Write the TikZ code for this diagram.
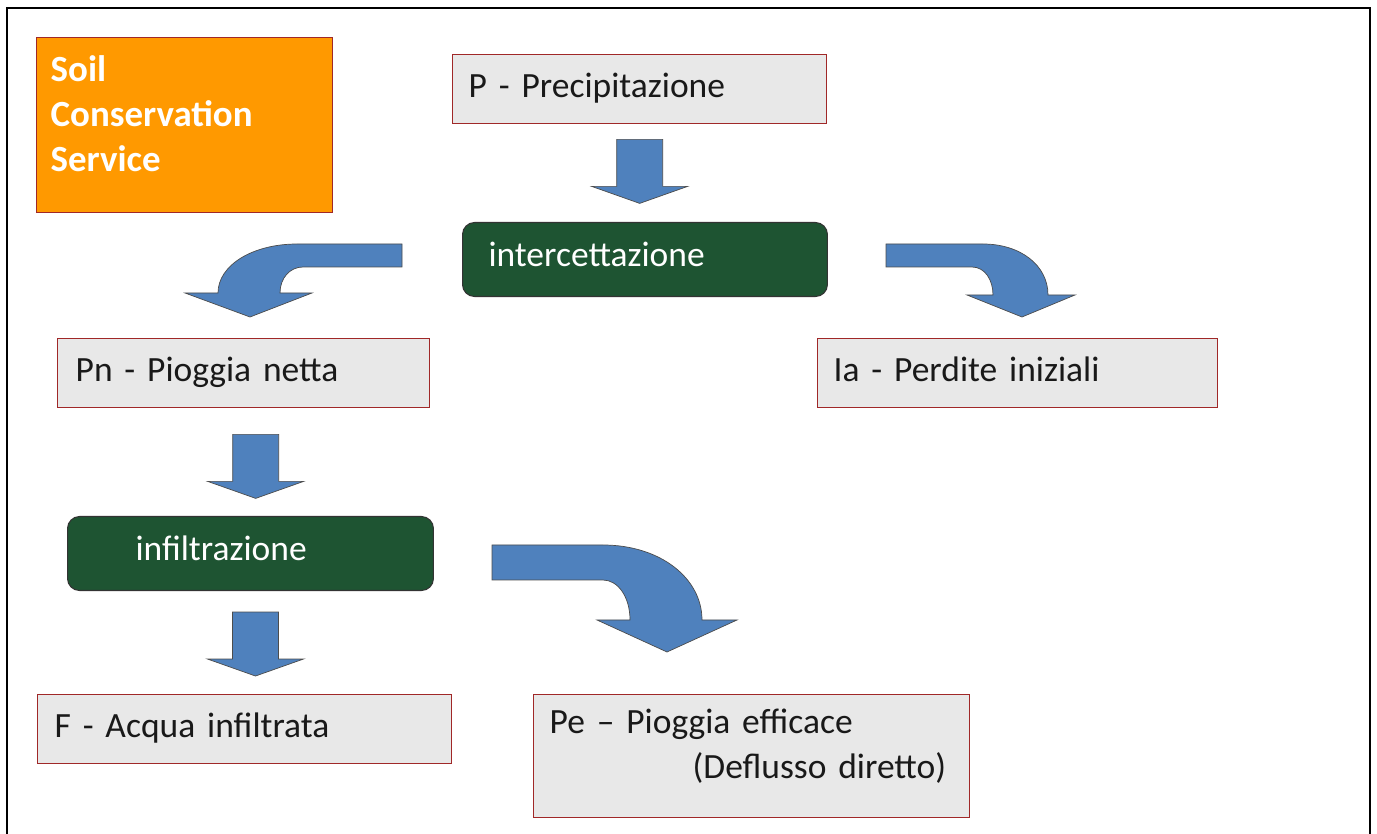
\documentclass[tikz,border=0pt]{standalone}
\usepackage{fontspec}
\setmainfont{Carlito}
\usetikzlibrary{positioning}

\definecolor{boxred}{RGB}{160,40,40}
\definecolor{flowblue}{RGB}{79,129,189}
\definecolor{marble}{RGB}{30,84,50}
\definecolor{scsorange}{RGB}{255,153,0}

\begin{document}
\begin{tikzpicture}[
    x = 0.02cm,
    y = -0.02cm
  ]
  \tikzstyle{block} = [
    draw = boxred, fill = gray!18, rectangle,
    line width     = 0.8pt,
    anchor         = north west,
    align          = left,
    inner xsep     = 0.32cm,
    minimum height = 1.38cm,
    text depth     = 0.17cm,
    text           = black!90,
    font           = \fontsize{20.2}{25.6}\selectfont
  ]
  \tikzstyle{step box} = [
    draw = black!80, fill = marble, rectangle,
    rounded corners = 0.24cm,
    line width     = 0.6pt,
    anchor         = north west,
    align          = left,
    minimum height = 1.48cm,
    text depth     = 0.22cm,
    text           = white,
    font           = \fontsize{20.2}{25.6}\selectfont
  ]
  \tikzstyle{flow}  = [draw = black!70, line width = 0.4pt, fill = flowblue]

  \useasboundingbox (0,0) rectangle (1377,834);
  \draw [line width = 0.04cm] (7,834) -- (7,8) -- (1370,8) -- (1370,834);

  \node [block, fill = scsorange, minimum height = 3.5cm, inner xsep = 0.28cm, text depth = {},
         text width = 5.36cm, text = white, font = \fontsize{21}{25.6}\selectfont\bfseries]
        at (36,37)   (scs)    {Soil\\Conservation\\Service\\[-0.42cm]\mbox{}};
  \node [block, text width = 6.84cm] at (452,54)  (prec)   {P - Precipitazione};
  \node [step box, inner xsep = 0.52cm, text width = 6.26cm]
        at (462,222) (interc) {intercettazione};
  \node [block, inner xsep = 0.36cm, text width = 6.72cm] at (57,338)  (pn)  {Pn - Pioggia netta};
  \node [block, text width = 7.36cm] at (817,338) (ia)     {Ia - Perdite iniziali};
  \node [step box, inner xsep = 1.36cm, text width = 4.6cm]
        at (67,516)  (infil)  {infiltrazione};
  \node [block, inner xsep = 0.34cm, text width = 7.6cm]  at (37,694)  (f)   {F - Acqua infiltrata};
  \node [block, minimum height = 2.46cm, text depth = {}, text width = 8.08cm] at (533,694) (pe)
        {Pe – Pioggia efficace\\\hspace*{2.86cm}\mbox{(Deflusso diretto)}\\[-0.4cm]\mbox{}};

  % straight arrows
  \path [flow] ([yshift=-0.3cm]prec.south) ++(-23,0) -- ++(0,47) -- ++(-25,0) -- ++(48,17)
        -- ++(48,-17) -- ++(-25,0) -- ++(0,-47) -- cycle;
  \path [flow] ([xshift=0.24cm, yshift=-0.52cm]pn.south) ++(-23,0) -- ++(0,47) -- ++(-25,0)
        -- ++(48,17) -- ++(48,-17) -- ++(-25,0) -- ++(0,-47) -- cycle;
  \path [flow] ([xshift=0.1cm, yshift=-0.42cm]infil.south) ++(-23,0) -- ++(0,47) -- ++(-25,0)
        -- ++(48,17) -- ++(48,-17) -- ++(-25,0) -- ++(0,-47) -- cycle;

  % bent arrows
  \path [flow] (402,244) -- (297,244) .. controls (253,244) and (218,265) .. (218,293)
        -- (185,293) -- (250,317) -- (312,293) -- (280,293)
        .. controls (280,278) and (290,267) .. (303,267) -- (402,267) -- cycle;
  \path [flow] (886,244) -- (983,244) .. controls (1020,244) and (1048,265) .. (1048,295)
        -- (1075,295) -- (1022,317) -- (967,295) -- (993,295)
        .. controls (993,280) and (985,267) .. (972,267) -- (886,267) -- cycle;
  \path [flow] (492,545) -- (603,545) .. controls (660,545) and (702,578) .. (702,620)
        -- (737,620) -- (667,652) -- (597,620) -- (630,620)
        .. controls (630,597) and (618,580) .. (603,580) -- (492,580) -- cycle;
\end{tikzpicture}
\end{document}
